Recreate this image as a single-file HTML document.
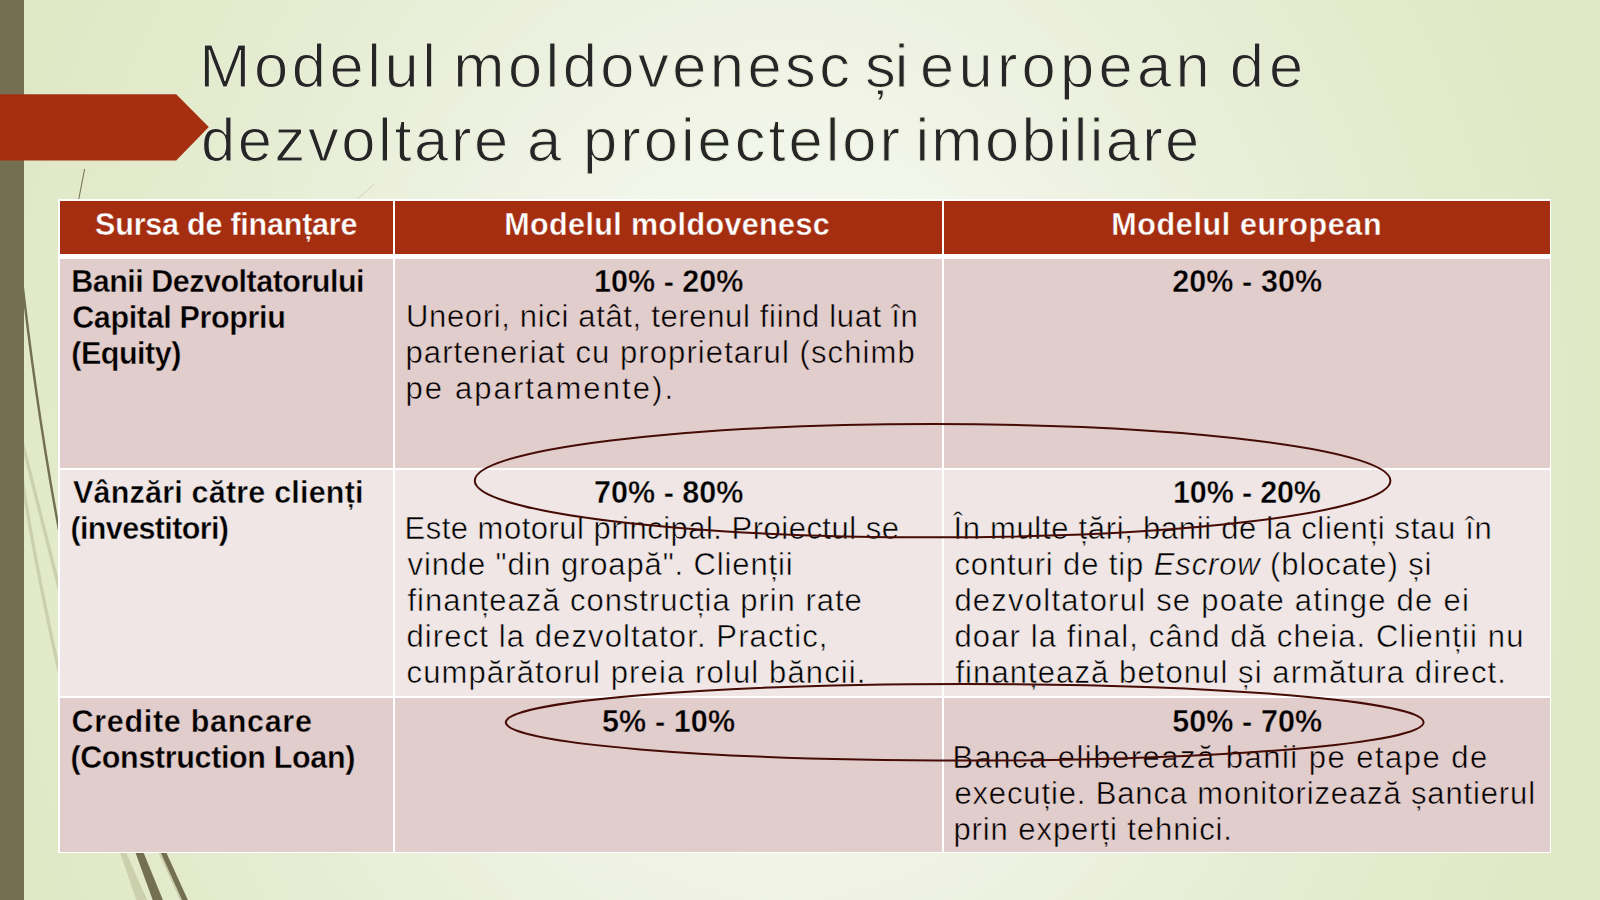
<!DOCTYPE html>
<html><head><meta charset="utf-8"><title>Modelul moldovenesc și european</title>
<style>
html,body{margin:0;padding:0;}
body{width:1600px;height:900px;overflow:hidden;position:relative;background:radial-gradient(ellipse 830px 1000px at 785px 470px, #FAFBF7 0%, #F3F6EB 30%, #EDF1E0 50%, #E5ECD0 75%, #DFE8C5 100%);font-family:"Liberation Sans",sans-serif;}
.a{position:absolute;white-space:pre;}
.t{position:absolute;white-space:pre;font-family:"Liberation Sans",sans-serif;}
</style></head><body>

<svg class="a" style="left:0;top:0" width="1600" height="900" viewBox="0 0 1600 900">
<path d="M84.6 169 L78.6 200" stroke="#6f6a50" stroke-width="1" fill="none"/>
<path d="M374 184 L357.5 199" stroke="#9a9a88" stroke-width="0.8" fill="none" opacity="0.45"/>
<path d="M20 262 Q35.5 404 59 530" stroke="#756F52" stroke-width="2.4" fill="none"/>
<path d="M20 433 L60 592" stroke="#CBCFAB" stroke-width="3.2" fill="none"/>
<path d="M20 462 Q30 540 60 676" stroke="#CBCFAB" stroke-width="3.2" fill="none"/>
<polygon points="120.1,853 126.3,853 147.1,900 136.4,900" fill="#CBCFAB"/>
<polygon points="135.6,853 143.7,853 162.9,900 152.7,900" fill="#756F52"/>
<polygon points="158.5,853 161,853 183,900 180,900" fill="#CBCFAB"/>
<polygon points="160.9,853 166.5,853 187.9,900 182,900" fill="#756F52"/>
</svg>
<div class="a" style="left:0;top:0;width:24px;height:900px;background:#756F52"></div>
<svg class="a" style="left:0;top:0" width="240" height="180" viewBox="0 0 240 180">
<polygon points="0,94.3 176.2,94.3 208.8,126.9 176.2,160.5 0,160.5" fill="#A52F10"/>
</svg>
<div class="a" style="left:58.2px;top:199.1px;width:1493.1px;height:654.2px;background:#fff"></div>
<div class="a" style="left:60.0px;top:201.0px;width:333.0px;height:52.5px;background:#A52E10"></div>
<div class="a" style="left:395.0px;top:201.0px;width:547.0px;height:52.5px;background:#A52E10"></div>
<div class="a" style="left:944.0px;top:201.0px;width:605.8px;height:52.5px;background:#A52E10"></div>
<div class="a" style="left:60.0px;top:258.5px;width:333.0px;height:209.3px;background:#E1CDCC"></div>
<div class="a" style="left:395.0px;top:258.5px;width:547.0px;height:209.3px;background:#E1CDCC"></div>
<div class="a" style="left:944.0px;top:258.5px;width:605.8px;height:209.3px;background:#E1CDCC"></div>
<div class="a" style="left:60.0px;top:469.7px;width:333.0px;height:226.2px;background:#EFE6E5"></div>
<div class="a" style="left:395.0px;top:469.7px;width:547.0px;height:226.2px;background:#EFE6E5"></div>
<div class="a" style="left:944.0px;top:469.7px;width:605.8px;height:226.2px;background:#EFE6E5"></div>
<div class="a" style="left:60.0px;top:697.8px;width:333.0px;height:153.9px;background:#E1CDCC"></div>
<div class="a" style="left:395.0px;top:697.8px;width:547.0px;height:153.9px;background:#E1CDCC"></div>
<div class="a" style="left:944.0px;top:697.8px;width:605.8px;height:153.9px;background:#E1CDCC"></div>
<div class="t" style="left:199.2px;top:35.0px;font-size:61.5px;line-height:61.5px;font-weight:400;letter-spacing:3.58px;color:#262626;-webkit-text-stroke:1.10px #EBF0DC">Modelul</div>
<div class="t" style="left:453.3px;top:35.0px;font-size:61.5px;line-height:61.5px;font-weight:400;letter-spacing:3.43px;color:#262626;-webkit-text-stroke:1.10px #EBF0DC">moldovenesc</div>
<div class="t" style="left:864.9px;top:35.0px;font-size:61.5px;line-height:61.5px;font-weight:400;letter-spacing:-1.00px;color:#262626;-webkit-text-stroke:1.10px #EBF0DC">și</div>
<div class="t" style="left:920.0px;top:35.0px;font-size:61.5px;line-height:61.5px;font-weight:400;letter-spacing:4.24px;color:#262626;-webkit-text-stroke:1.10px #EBF0DC">european</div>
<div class="t" style="left:1229.8px;top:35.0px;font-size:61.5px;line-height:61.5px;font-weight:400;letter-spacing:5.00px;color:#262626;-webkit-text-stroke:1.10px #EBF0DC">de</div>
<div class="t" style="left:200.9px;top:108.9px;font-size:61.5px;line-height:61.5px;font-weight:400;letter-spacing:2.62px;color:#262626;-webkit-text-stroke:1.10px #EBF0DC">dezvoltare</div>
<div class="t" style="left:527.1px;top:108.9px;font-size:61.5px;line-height:61.5px;font-weight:400;letter-spacing:0.00px;color:#262626;-webkit-text-stroke:1.10px #EBF0DC">a</div>
<div class="t" style="left:583.1px;top:108.9px;font-size:61.5px;line-height:61.5px;font-weight:400;letter-spacing:2.98px;color:#262626;-webkit-text-stroke:1.10px #EBF0DC">proiectelor</div>
<div class="t" style="left:915.4px;top:108.9px;font-size:61.5px;line-height:61.5px;font-weight:400;letter-spacing:2.30px;color:#262626;-webkit-text-stroke:1.10px #EBF0DC">imobiliare</div>
<div class="t" style="left:95.1px;top:209.2px;font-size:30.5px;line-height:30.5px;font-weight:700;letter-spacing:-0.22px;color:#fff;-webkit-text-stroke:0.40px #A52E10">Sursa de finanțare</div>
<div class="t" style="left:504.3px;top:209.2px;font-size:30.5px;line-height:30.5px;font-weight:700;letter-spacing:0.38px;color:#fff;-webkit-text-stroke:0.40px #A52E10">Modelul moldovenesc</div>
<div class="t" style="left:1111.3px;top:209.2px;font-size:30.5px;line-height:30.5px;font-weight:700;letter-spacing:0.62px;color:#fff;-webkit-text-stroke:0.40px #A52E10">Modelul european</div>
<div class="t" style="left:71.2px;top:265.7px;font-size:30.5px;line-height:30.5px;font-weight:700;letter-spacing:-0.50px;color:#000;-webkit-text-stroke:0.40px #E1CDCC">Banii Dezvoltatorului</div>
<div class="t" style="left:72.2px;top:301.7px;font-size:30.5px;line-height:30.5px;font-weight:700;letter-spacing:-0.36px;color:#000;-webkit-text-stroke:0.40px #E1CDCC">Capital Propriu</div>
<div class="t" style="left:71.2px;top:337.7px;font-size:30.5px;line-height:30.5px;font-weight:700;letter-spacing:-0.46px;color:#000;-webkit-text-stroke:0.40px #E1CDCC">(Equity)</div>
<div class="t" style="left:594.1px;top:265.7px;font-size:30.5px;line-height:30.5px;font-weight:700;letter-spacing:0.01px;color:#000;-webkit-text-stroke:0.40px #E1CDCC">10% - 20%</div>
<div class="t" style="left:406.0px;top:301.3px;font-size:31px;line-height:31px;font-weight:400;letter-spacing:0.66px;color:#000;-webkit-text-stroke:0.50px #E1CDCC">Uneori, nici atât, terenul fiind luat în</div>
<div class="t" style="left:405.5px;top:337.3px;font-size:31px;line-height:31px;font-weight:400;letter-spacing:1.09px;color:#000;-webkit-text-stroke:0.50px #E1CDCC">parteneriat cu proprietarul (schimb</div>
<div class="t" style="left:405.5px;top:373.3px;font-size:31px;line-height:31px;font-weight:400;letter-spacing:2.10px;color:#000;-webkit-text-stroke:0.50px #E1CDCC">pe apartamente).</div>
<div class="t" style="left:1172.2px;top:265.7px;font-size:30.5px;line-height:30.5px;font-weight:700;letter-spacing:0.09px;color:#000;-webkit-text-stroke:0.40px #E1CDCC">20% - 30%</div>
<div class="t" style="left:73.0px;top:476.9px;font-size:30.5px;line-height:30.5px;font-weight:700;letter-spacing:0.20px;color:#000;-webkit-text-stroke:0.40px #EFE6E5">Vânzări către clienți</div>
<div class="t" style="left:70.4px;top:512.9px;font-size:30.5px;line-height:30.5px;font-weight:700;letter-spacing:-0.62px;color:#000;-webkit-text-stroke:0.40px #EFE6E5">(investitori)</div>
<div class="t" style="left:594.1px;top:476.9px;font-size:30.5px;line-height:30.5px;font-weight:700;letter-spacing:0.01px;color:#000;-webkit-text-stroke:0.40px #EFE6E5">70% - 80%</div>
<div class="t" style="left:404.5px;top:512.5px;font-size:31px;line-height:31px;font-weight:400;letter-spacing:0.49px;color:#000;-webkit-text-stroke:0.50px #EFE6E5">Este motorul principal. Proiectul se</div>
<div class="t" style="left:407.5px;top:548.5px;font-size:31px;line-height:31px;font-weight:400;letter-spacing:0.88px;color:#000;-webkit-text-stroke:0.50px #EFE6E5">vinde "din groapă". Clienții</div>
<div class="t" style="left:407.5px;top:584.5px;font-size:31px;line-height:31px;font-weight:400;letter-spacing:0.98px;color:#000;-webkit-text-stroke:0.50px #EFE6E5">finanțează construcția prin rate</div>
<div class="t" style="left:406.5px;top:620.5px;font-size:31px;line-height:31px;font-weight:400;letter-spacing:1.11px;color:#000;-webkit-text-stroke:0.50px #EFE6E5">direct la dezvoltator. Practic,</div>
<div class="t" style="left:406.5px;top:656.5px;font-size:31px;line-height:31px;font-weight:400;letter-spacing:1.13px;color:#000;-webkit-text-stroke:0.50px #EFE6E5">cumpărătorul preia rolul băncii.</div>
<div class="t" style="left:1173.0px;top:476.9px;font-size:30.5px;line-height:30.5px;font-weight:700;letter-spacing:-0.15px;color:#000;-webkit-text-stroke:0.40px #EFE6E5">10% - 20%</div>
<div class="t" style="left:953.4px;top:512.5px;font-size:31px;line-height:31px;font-weight:400;letter-spacing:0.69px;color:#000;-webkit-text-stroke:0.50px #EFE6E5">În multe țări, banii de la clienți stau în</div>
<div class="t" style="left:954.4px;top:548.5px;font-size:31px;line-height:31px;font-weight:400;letter-spacing:0.88px;color:#000;-webkit-text-stroke:0.50px #EFE6E5">conturi de tip <i>Escrow</i> (blocate) și</div>
<div class="t" style="left:954.4px;top:584.5px;font-size:31px;line-height:31px;font-weight:400;letter-spacing:1.24px;color:#000;-webkit-text-stroke:0.50px #EFE6E5">dezvoltatorul se poate atinge de ei</div>
<div class="t" style="left:954.4px;top:620.5px;font-size:31px;line-height:31px;font-weight:400;letter-spacing:1.13px;color:#000;-webkit-text-stroke:0.50px #EFE6E5">doar la final, când dă cheia. Clienții nu</div>
<div class="t" style="left:955.4px;top:656.5px;font-size:31px;line-height:31px;font-weight:400;letter-spacing:1.09px;color:#000;-webkit-text-stroke:0.50px #EFE6E5">finanțează betonul și armătura direct.</div>
<div class="t" style="left:71.4px;top:706.0px;font-size:30.5px;line-height:30.5px;font-weight:700;letter-spacing:0.71px;color:#000;-webkit-text-stroke:0.40px #E1CDCC">Credite bancare</div>
<div class="t" style="left:70.4px;top:742.0px;font-size:30.5px;line-height:30.5px;font-weight:700;letter-spacing:-0.36px;color:#000;-webkit-text-stroke:0.40px #E1CDCC">(Construction Loan)</div>
<div class="t" style="left:602.0px;top:706.0px;font-size:30.5px;line-height:30.5px;font-weight:700;letter-spacing:0.11px;color:#000;-webkit-text-stroke:0.40px #E1CDCC">5% - 10%</div>
<div class="t" style="left:1172.2px;top:706.0px;font-size:30.5px;line-height:30.5px;font-weight:700;letter-spacing:0.09px;color:#000;-webkit-text-stroke:0.40px #E1CDCC">50% - 70%</div>
<div class="t" style="left:952.4px;top:741.6px;font-size:31px;line-height:31px;font-weight:400;letter-spacing:1.48px;color:#000;-webkit-text-stroke:0.50px #E1CDCC">Banca eliberează banii pe etape de</div>
<div class="t" style="left:954.4px;top:777.6px;font-size:31px;line-height:31px;font-weight:400;letter-spacing:0.86px;color:#000;-webkit-text-stroke:0.50px #E1CDCC">execuție. Banca monitorizează șantierul</div>
<div class="t" style="left:953.4px;top:813.6px;font-size:31px;line-height:31px;font-weight:400;letter-spacing:0.92px;color:#000;-webkit-text-stroke:0.50px #E1CDCC">prin experți tehnici.</div>
<svg class="a" style="left:0;top:0" width="1600" height="900" viewBox="0 0 1600 900">
<ellipse cx="932.6" cy="480.7" rx="457.8" ry="56.6" fill="none" stroke="#450B04" stroke-width="2"/>
<ellipse cx="964.7" cy="722.3" rx="458.9" ry="38.3" fill="none" stroke="#450B04" stroke-width="2"/>
</svg>
</body></html>
